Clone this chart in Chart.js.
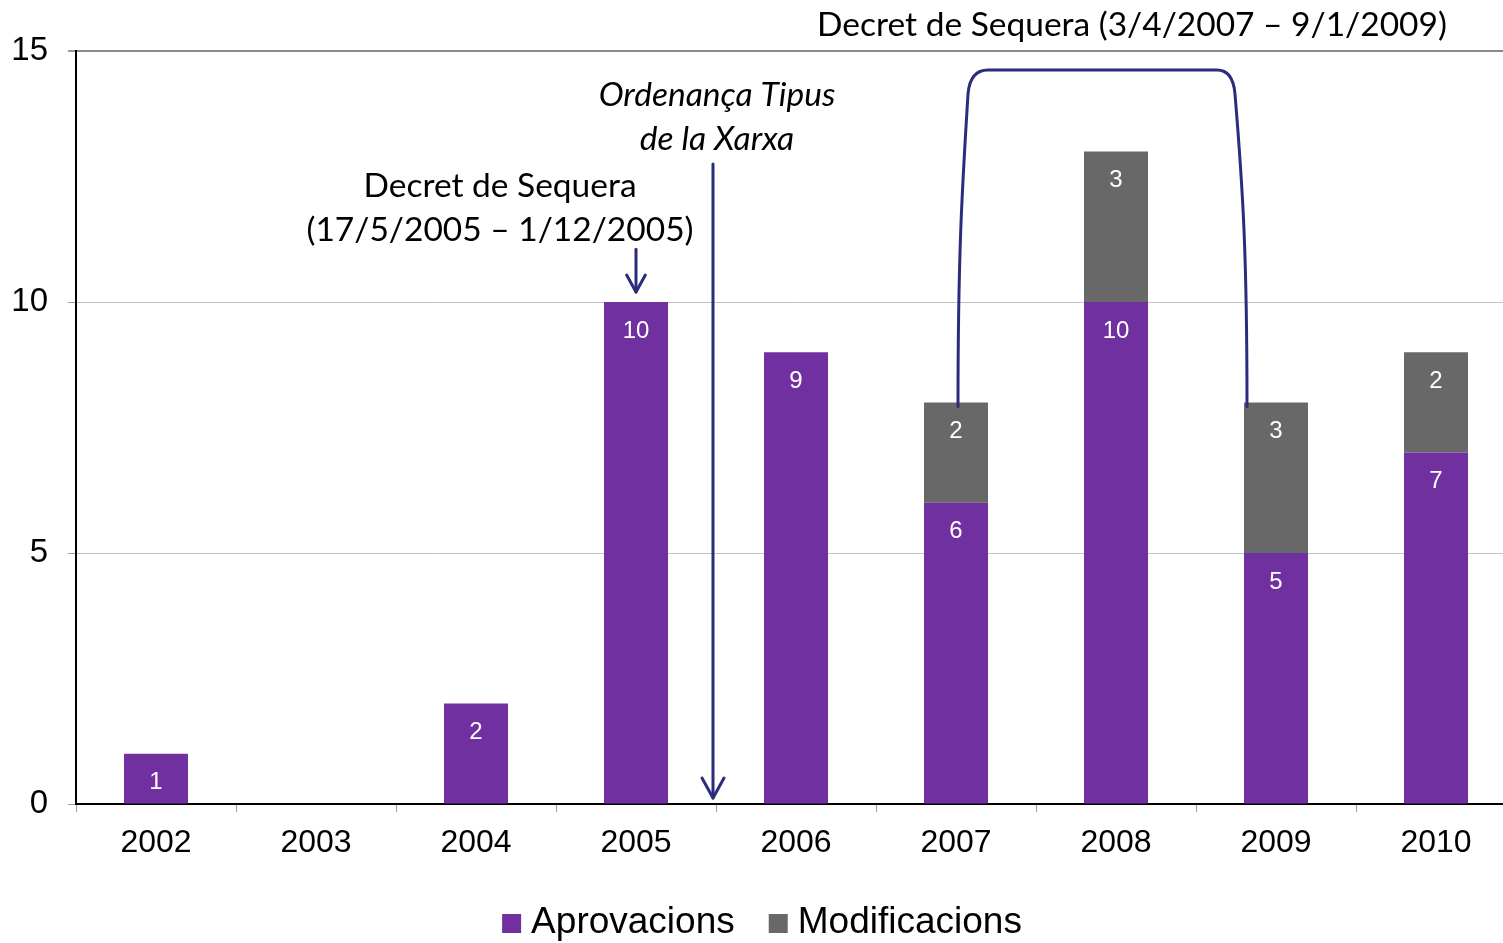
<!DOCTYPE html>
<html>
<head>
<meta charset="utf-8">
<script src="https://cdn.jsdelivr.net/npm/chart.js@4.4.1/dist/chart.umd.min.js"></script>
<style>
html,body{margin:0;padding:0;background:#fff;overflow:hidden;}
#outer{width:1503px;height:943px;overflow:hidden;position:relative;}
#wrap{width:1516px;height:943px;position:relative;}
</style>
</head>
<body>
<div id="outer"><div id="wrap"><canvas id="c"></canvas></div></div>
<script>
const categories = ['2002','2003','2004','2005','2006','2007','2008','2009','2010'];
const aprovacions = [1, 0, 2, 10, 9, 6, 10, 5, 7];
const modificacions = [0, 0, 0, 0, 0, 2, 3, 3, 2];
const seriesNames = ['Aprovacions', 'Modificacions'];
const yTicks = [0, 5, 10, 15];

const PURPLE = '#7030A0';
const GREY = '#686868';
const NAVY = '#2b2d7c';
const ANN_FONT = 'Lato, "Open Sans", sans-serif';
const SANS = '"Liberation Sans", Arial, sans-serif';

const barLabels = {
  id: 'barLabels',
  afterDatasetsDraw(chart) {
    const ctx = chart.ctx;
    ctx.save();
    ctx.fillStyle = '#fff';
    ctx.font = '24px ' + SANS;
    ctx.textAlign = 'center';
    ctx.textBaseline = 'middle';
    chart.data.datasets.forEach((ds, di) => {
      const meta = chart.getDatasetMeta(di);
      meta.data.forEach((el, i) => {
        const v = ds.data[i];
        if (!v) return;
        ctx.fillText(String(v), el.x, el.y + 29);
      });
    });
    ctx.restore();
  }
};

// Legend drawn from the datasets (box, 10px gap, text; items centred)
const bottomLegend = {
  id: 'bottomLegend',
  afterDraw(chart) {
    const ctx = chart.ctx;
    ctx.save();
    ctx.font = '37px ' + SANS;
    ctx.textBaseline = 'alphabetic';
    ctx.textAlign = 'left';
    const box = 19, gap = 10, itemGap = 34;
    const items = chart.data.datasets.map(ds => ({ text: ds.label, color: ds.backgroundColor, w: ctx.measureText(ds.label).width }));
    const total = items.reduce((s, it) => s + box + gap + it.w, 0) + itemGap * (items.length - 1);
    let x = chart.width / 2 + 4 - total / 2;
    const base = chart.height - 10;
    items.forEach(it => {
      ctx.fillStyle = it.color;
      ctx.fillRect(x, base - 19, box, box);
      ctx.fillStyle = '#000';
      ctx.fillText(it.text, x + box + gap, base);
      x += box + gap + it.w + itemGap;
    });
    ctx.restore();
  }
};

function arrowHead(ctx, x, y, size) {
  ctx.beginPath();
  ctx.moveTo(x - size * 0.55, y - size);
  ctx.lineTo(x, y);
  ctx.lineTo(x + size * 0.55, y - size);
  ctx.stroke();
}

const annotations = {
  id: 'annotations',
  afterDraw(chart) {
    const ctx = chart.ctx;
    const xs = chart.scales.x, ys = chart.scales.y;
    const px = i => xs.getPixelForValue(i);
    const py = v => ys.getPixelForValue(v);
    ctx.save();
    ctx.strokeStyle = NAVY;
    ctx.lineWidth = 3;
    ctx.lineCap = 'round';
    ctx.lineJoin = 'round';

    // Decret de Sequera 2005 arrow (points at 2005 bar)
    const x05 = px(3);
    ctx.beginPath();
    ctx.moveTo(x05, py(11.05));
    ctx.lineTo(x05, py(10.2));
    ctx.stroke();
    arrowHead(ctx, x05, py(10.2), 17);

    // Ordenança arrow between 2005 and 2006
    const xo = (px(3) + px(4)) / 2 - 3;
    ctx.beginPath();
    ctx.moveTo(xo, py(12.75));
    ctx.lineTo(xo, py(0.12));
    ctx.stroke();
    arrowHead(ctx, xo, py(0.12), 20);

    // Bracket 2007 - 2009
    const xl = px(5) + 2, xr = px(7) - 29;
    const yb = py(7.92), yt = py(14.62);
    ctx.beginPath();
    ctx.moveTo(xl, yb);
    ctx.bezierCurveTo(xl, yb - 150, xl + 4, yt + 120, xl + 10, yt + 24);
    ctx.quadraticCurveTo(xl + 12, yt, xl + 30, yt);
    ctx.lineTo(xr - 30, yt);
    ctx.quadraticCurveTo(xr - 14, yt, xr - 12, yt + 24);
    ctx.bezierCurveTo(xr - 4, yt + 120, xr, yb - 150, xr, yb);
    ctx.stroke();

    // Texts
    ctx.fillStyle = '#000';
    ctx.textAlign = 'center';
    ctx.textBaseline = 'middle';
    ctx.font = '33.5px ' + ANN_FONT;
    ctx.fillText('Decret de Sequera', x05 - 136, py(12.31));
    ctx.fillText('(17/5/2005 \u2013 1/12/2005)', x05 - 136, py(11.43));
    ctx.fillText('Decret de Sequera (3/4/2007 \u2013 9/1/2009)', px(6) + 16, py(15.52));
    ctx.font = 'italic 33.5px ' + ANN_FONT;
    ctx.fillText('Ordenan\u00e7a Tipus', xo + 4, py(14.12));
    ctx.fillText('de la Xarxa', xo + 4, py(13.25));
    ctx.restore();
  }
};

new Chart(document.getElementById('c'), {
  type: 'bar',
  data: {
    labels: categories,
    datasets: [
      { label: seriesNames[0], data: aprovacions, backgroundColor: PURPLE, barPercentage: 0.4, categoryPercentage: 1.0 },
      { label: seriesNames[1], data: modificacions, backgroundColor: GREY, barPercentage: 0.4, categoryPercentage: 1.0 }
    ]
  },
  options: {
    responsive: true,
    maintainAspectRatio: false,
    animation: false,
    layout: { padding: { top: 51, left: 0, right: 0, bottom: 0 } },
    plugins: {
      tooltip: { enabled: false },
      legend: { display: false }
    },
    scales: {
      x: {
        stacked: true,
        afterFit(scale) { scale.height = 139; },
        grid: { offset: true, drawOnChartArea: false, drawTicks: true, tickLength: 8, tickColor: '#999', lineWidth: 1 },
        border: { color: '#000', width: 2 },
        ticks: { color: '#000', padding: 12, font: { size: 32, family: SANS } }
      },
      y: {
        stacked: true,
        min: 0, max: 15,
        afterFit(scale) { scale.width = 76; },
        afterBuildTicks(axis) { axis.ticks = yTicks.map(v => ({ value: v })); },
        grid: {
          color: c => (c.tick && c.tick.value === 15) ? '#8a8a8a' : '#c4c4c4',
          lineWidth: c => (c.tick && c.tick.value === 15) ? 2 : 1,
          tickLength: 8, tickColor: '#999'
        },
        border: { color: '#000', width: 2 },
        ticks: { color: '#000', padding: 20, font: { size: 33, family: SANS } }
      }
    }
  },
  plugins: [barLabels, annotations, bottomLegend]
});
</script>
</body>
</html>
